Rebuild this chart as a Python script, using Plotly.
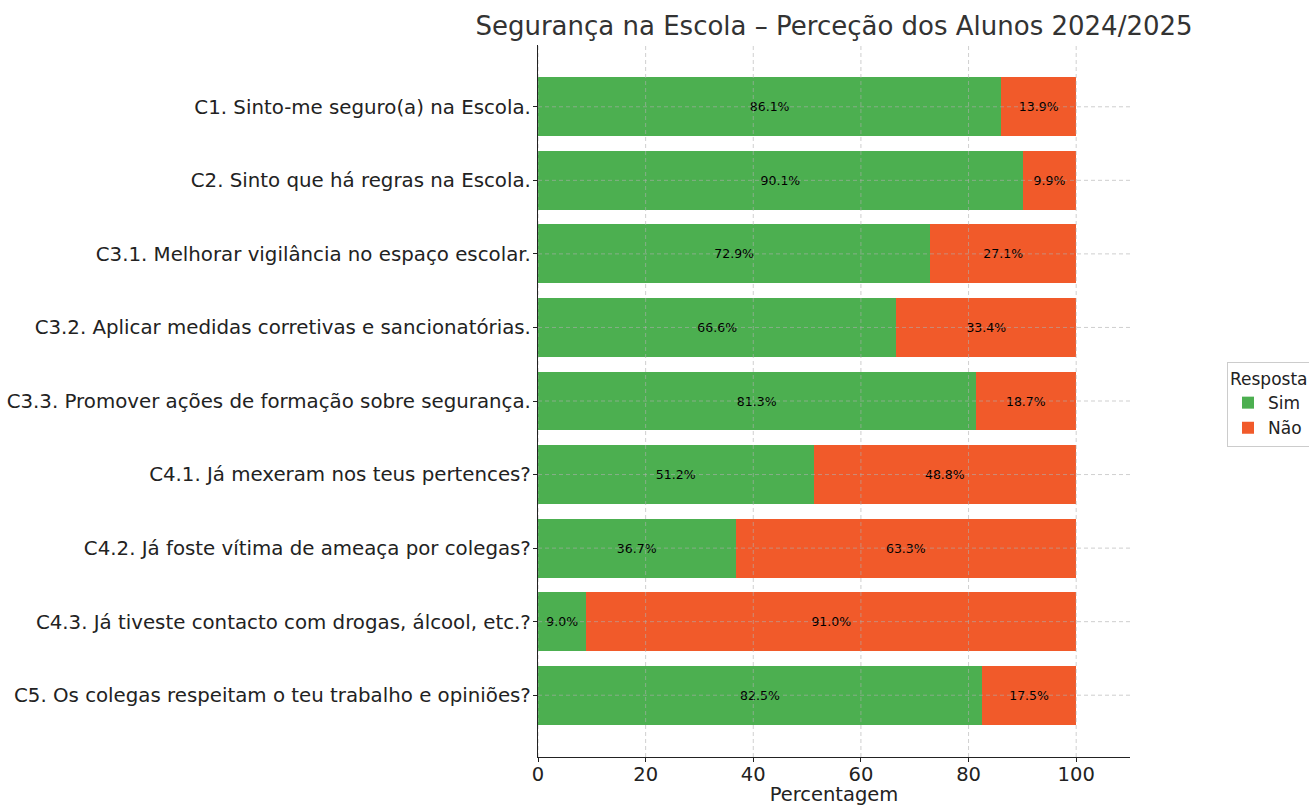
import plotly.graph_objects as go

questions = [
    "C1. Sinto-me seguro(a) na Escola.",
    "C2. Sinto que há regras na Escola.",
    "C3.1. Melhorar vigilância no espaço escolar.",
    "C3.2. Aplicar medidas corretivas e sancionatórias.",
    "C3.3. Promover ações de formação sobre segurança.",
    "C4.1. Já mexeram nos teus pertences?",
    "C4.2. Já foste vítima de ameaça por colegas?",
    "C4.3. Já tiveste contacto com drogas, álcool, etc.?",
    "C5. Os colegas respeitam o teu trabalho e opiniões?",
]
sim = [86.1, 90.1, 72.9, 66.6, 81.3, 51.2, 36.7, 9.0, 82.5]
nao = [13.9, 9.9, 27.1, 33.4, 18.7, 48.8, 63.3, 91.0, 17.5]
x_ticks = [0, 20, 40, 60, 80, 100]

GREEN = "#4caf50"
ORANGE = "#f15a2a"
FONT = "DejaVu Sans"

fig = go.Figure()
for name, vals, col in [("Sim", sim, GREEN), ("Não", nao, ORANGE)]:
    fig.add_trace(go.Bar(
        y=questions, x=vals, name=name, orientation="h",
        marker=dict(color=col, line=dict(width=0)),
        text=[f"{v:.1f}%" for v in vals],
        textposition="inside", insidetextanchor="middle", textangle=0,
        insidetextfont=dict(size=12.5, color="black", family=FONT),
        constraintext="none",
    ))

# dashed grid drawn above the bars, like the original
grid = dict(color="rgba(175,175,175,0.75)", width=0.8, dash="4px,3px")
for t in x_ticks:
    fig.add_shape(type="line", xref="x", yref="paper", x0=t, x1=t, y0=0, y1=1,
                  line=grid, layer="above")
for q in questions:
    fig.add_shape(type="line", xref="paper", yref="y", x0=0, x1=1, y0=q, y1=q,
                  line=grid, layer="above")

n = len(questions)
fig.update_layout(
    barmode="stack", bargap=0.2,
    width=1309, height=806,
    paper_bgcolor="white", plot_bgcolor="white",
    font=dict(family=FONT, color="#222222", size=19.5),
    margin=dict(l=538, r=179, t=45, b=49, autoexpand=False),
    title=dict(text="Segurança na Escola – Perceção dos Alunos 2024/2025",
               x=(538 + 1130) / 2 / 1309, xanchor="center", y=1 - 26 / 806, yanchor="middle",
               font=dict(size=26, color="#333333")),
    legend=dict(title=dict(text="Resposta", font=dict(size=17)), font=dict(size=17),
                x=(1227 - 538) / 592, xanchor="left", y=(757 - 362) / 712, yanchor="top",
                bordercolor="#cccccc", borderwidth=1, bgcolor="white",
                traceorder="normal", itemwidth=30, tracegroupgap=0),
    showlegend=True,
)
fig.update_xaxes(range=[0, 110], tickvals=x_ticks, showgrid=False, zeroline=False,
                 showline=True, linecolor="#222222", linewidth=1.3,
                 ticks="outside", ticklen=4, tickcolor="#222222",
                 ticklabelstandoff=-5,
                 title=dict(text="Percentagem", standoff=11, font=dict(size=19.5)),
                 tickfont=dict(size=19.5))
fig.update_yaxes(range=[n - 1 + 0.84, -0.84], showgrid=False, zeroline=False,
                 showline=True, linecolor="#222222", linewidth=1.3,
                 ticks="outside", ticklen=4, tickcolor="#222222",
                 ticklabelstandoff=-2,
                 tickfont=dict(size=19.8))

fig.write_html("out.html", config={"displayModeBar": False},
               post_script="document.body.style.margin='0';")
